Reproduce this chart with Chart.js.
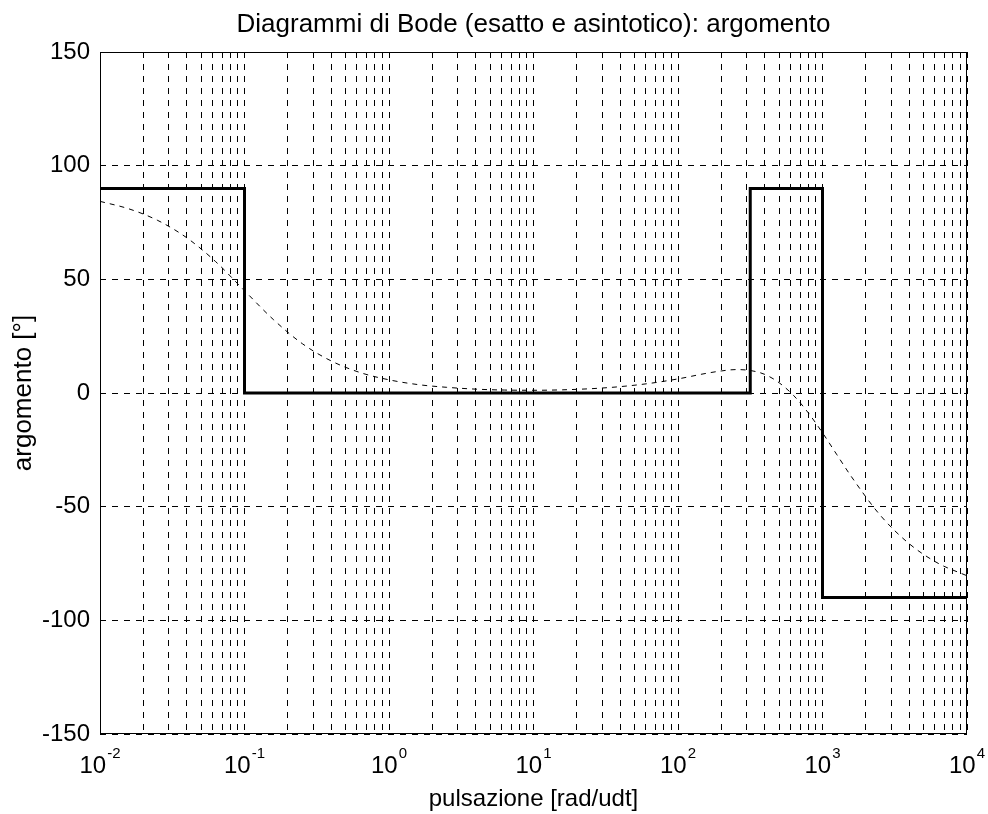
<!DOCTYPE html>
<html lang="it">
<head>
<meta charset="utf-8">
<title>Diagrammi di Bode: argomento</title>
<script src="https://cdn.jsdelivr.net/npm/chart.js@4"></script>
<style>
  html, body { margin: 0; padding: 0; background: #fff; }
  canvas { display: block; }
</style>
</head>
<body>
<canvas id="bode" width="988" height="814"></canvas>
<script>
// Pulsazioni (rad/udt) e fase esatta [°]
const pulsazioni = [
  0.01, 0.01585, 0.02512, 0.03981, 0.0631, 0.1, 0.1585, 0.2512, 0.3981, 0.631,
  1, 1.585, 2.512, 3.981, 6.31, 10, 15.85, 25.12, 39.81, 63.1,
  100, 158.5, 199.5, 251.2, 316.2, 398.1, 501.2, 631, 794.3, 1000,
  1259, 1585, 2512, 3981, 6310, 10000
];
const argomentoEsatto = [
  84.3, 81.0, 75.9, 68.3, 57.8, 45.0, 32.3, 21.7, 14.1, 9.0,
  5.8, 3.7, 2.5, 1.7, 1.3, 1.2, 1.4, 1.9, 2.8, 4.2,
  6.2, 8.7, 9.7, 10.3, 9.9, 8.2, 4.5, -1.1, -8.6, -17.5,
  -27.2, -36.8, -53.8, -66.3, -74.9, -80.4
];

// Diagramma asintotico: spezzata a gradini
const pulsazioniAsintoto = [0.01, 0.1, 0.1, 316.2, 316.2, 1000, 1000, 10000];
const argomentoAsintoto  = [90, 90, 0, 0, 90, 90, -90, -90];

// Decadi dell'asse delle pulsazioni e tacche dell'asse delle fasi
const decadi = [-2, -1, 0, 1, 2, 3, 4];
const tacchePerDecade = [1, 2, 3, 4, 5, 6, 7, 8, 9];
const tacchiArgomento = [-150, -100, -50, 0, 50, 100, 150];

const FONT = "'Liberation Sans', Arial, Helvetica, sans-serif";

const puntiEsatti = pulsazioni.map((w, i) => ({ x: w, y: argomentoEsatto[i] }));
const puntiAsintoto = pulsazioniAsintoto.map((w, i) => ({ x: w, y: argomentoAsintoto[i] }));

// Valori delle linee di griglia verticali: 1..9 per ogni decade
const valoriGriglia = [];
decadi.forEach((d, k) => {
  if (k === decadi.length - 1) { valoriGriglia.push(Math.pow(10, d)); return; }
  tacchePerDecade.forEach(m => valoriGriglia.push(+(m * Math.pow(10, d)).toPrecision(6)));
});

// Etichette "10^n" con esponente in apice sotto l'asse delle pulsazioni
const etichettePotenze = {
  id: 'etichettePotenze',
  afterDraw(chart) {
    const xs = chart.scales.x;
    const ctx = chart.ctx;
    const base = chart.chartArea.bottom + 39;
    ctx.save();
    ctx.fillStyle = '#000';
    ctx.textBaseline = 'alphabetic';
    ctx.textAlign = 'left';
    decadi.forEach(d => {
      const px = xs.getPixelForValue(Math.pow(10, d));
      ctx.font = '24px ' + FONT;
      const wBase = ctx.measureText('10').width;
      ctx.font = '15px ' + FONT;
      const esp = String(d);
      const wEsp = ctx.measureText(esp).width;
      const x0 = px - (wBase + 1 + wEsp) / 2;
      ctx.font = '24px ' + FONT;
      ctx.fillText('10', x0, base);
      ctx.font = '15px ' + FONT;
      ctx.fillText(esp, x0 + wBase + 1, base - 15);
    });
    ctx.restore();
  }
};

// Riquadro attorno all'area del grafico
const riquadro = {
  id: 'riquadro',
  afterDatasetsDraw(chart) {
    const a = chart.chartArea;
    const ctx = chart.ctx;
    ctx.save();
    ctx.strokeStyle = '#000';
    ctx.lineWidth = 1;
    ctx.setLineDash([]);
    ctx.strokeRect(Math.round(a.left) + 0.5, Math.round(a.top) + 0.5,
                   Math.round(a.right - a.left) - 1, Math.round(a.bottom - a.top) - 1);
    ctx.restore();
  }
};

new Chart(document.getElementById('bode'), {
  type: 'scatter',
  data: {
    datasets: [
      {
        label: 'asintotico',
        data: puntiAsintoto,
        showLine: true,
        borderColor: '#000',
        borderWidth: 3,
        pointRadius: 0,
        tension: 0,
        borderJoinStyle: 'miter',
        borderCapStyle: 'butt'
      },
      {
        label: 'esatto',
        data: puntiEsatti,
        showLine: true,
        borderColor: '#000',
        borderWidth: 1,
        borderDash: [5, 5],
        pointRadius: 0,
        cubicInterpolationMode: 'monotone'
      }
    ]
  },
  options: {
    responsive: false,
    animation: false,
    devicePixelRatio: 1,
    layout: { padding: { left: 0, right: 21, top: 0, bottom: 0 } },
    plugins: {
      legend: { display: false },
      tooltip: { enabled: false },
      title: {
        display: true,
        fullSize: false,
        text: 'Diagrammi di Bode (esatto e asintotico): argomento',
        color: '#000',
        font: { family: FONT, size: 26, weight: 'normal' },
        padding: { top: 9, bottom: 11.8 }
      }
    },
    scales: {
      x: {
        type: 'logarithmic',
        min: 0.01,
        max: 10000,
        afterBuildTicks(scale) {
          scale.ticks = valoriGriglia.map(v => ({ value: v }));
        },
        afterFit(scale) { scale.height = 80; },
        ticks: { display: false },
        grid: { color: '#000', lineWidth: 1, drawTicks: false },
        border: { display: false, dash: [6, 6] },
        title: {
          display: true,
          text: 'pulsazione [rad/udt]',
          color: '#000',
          font: { family: FONT, size: 24, weight: 'normal' },
          padding: { top: 0, bottom: 0 }
        }
      },
      y: {
        min: -150,
        max: 150,
        afterBuildTicks(scale) {
          scale.ticks = tacchiArgomento.map(v => ({ value: v }));
        },
        afterFit(scale) { scale.width = 100; },
        ticks: {
          color: '#000',
          padding: 10,
          font: { family: FONT, size: 24 }
        },
        grid: { color: '#000', lineWidth: 1, drawTicks: false },
        border: { display: false, dash: [6, 6] },
        title: {
          display: true,
          text: 'argomento [°]',
          color: '#000',
          font: { family: FONT, size: 26, weight: 'normal' },
          padding: { top: 8, bottom: 0 }
        }
      }
    }
  },
  plugins: [etichettePotenze, riquadro]
});
</script>
</body>
</html>
